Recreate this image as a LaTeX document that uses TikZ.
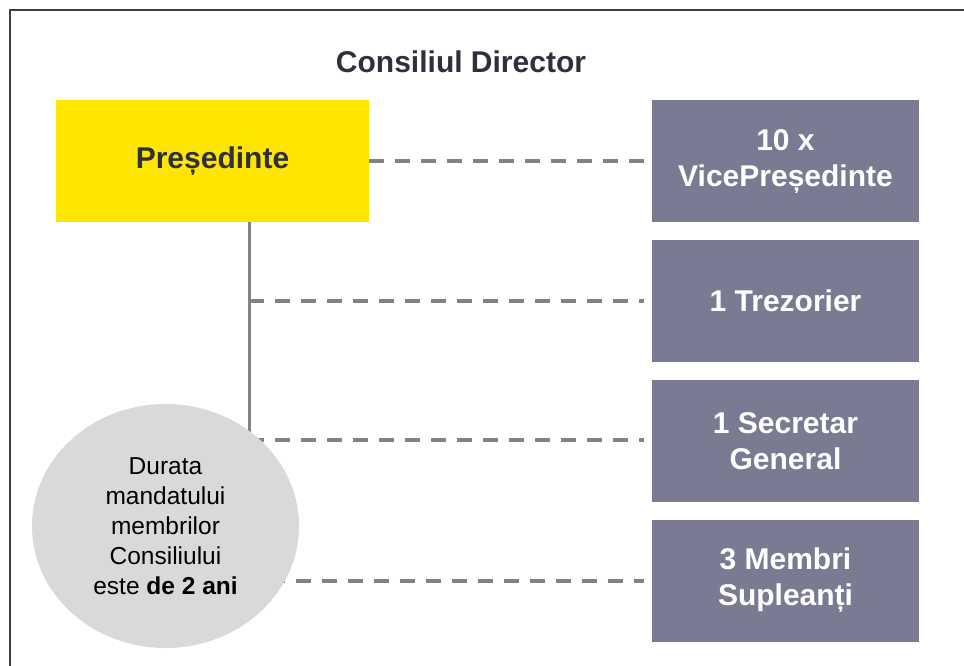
\documentclass[tikz,border=0pt]{standalone}
\usepackage{fontspec}
\setmainfont{Liberation Sans}
\usetikzlibrary{shapes.geometric,backgrounds}
\definecolor{galben}{HTML}{FFE600}
\definecolor{mov}{HTML}{7A7A92}
\definecolor{gricerc}{HTML}{D9D9D9}
\definecolor{grilinie}{HTML}{828282}
\definecolor{textinchis}{HTML}{30303C}
\definecolor{rama}{HTML}{3C3C4A}
\begin{document}
\begin{tikzpicture}[x=1pt, y=-1pt,
    cutie/.style={minimum width=267pt, minimum height=122pt, fill=mov, text=white,
      font=\fontsize{30}{36}\selectfont\bfseries, align=center, inner sep=0pt},
    legatura/.style={draw=grilinie, line width=4pt, dash pattern=on 15pt off 11pt}]
  \useasboundingbox (0,0) rectangle (964,666);
  % rama
  \draw[rama, line width=2pt] (10,666) -- (10,10) -- (964,10);
  \node[font=\fontsize{30}{36}\selectfont\bfseries, text=textinchis] (titlu) at (461,62) {Consiliul Director};
  \node[fill=galben, minimum width=313pt, minimum height=122pt, inner sep=0pt,
    font=\fontsize{30}{36}\selectfont\bfseries, text=textinchis] (pres) at (212.5,161) {Președinte};
  \foreach \n/\y/\t in {vice/161/{10 x\\VicePreședinte}, trez/301/{1 Trezorier},
      secr/441/{1 Secretar\\General}, supl/580.5/{3 Membri\\Supleanți}} {
    \node[cutie] (\n) at (785.5,\y) {\t};
  }
  \node[ellipse, fill=gricerc, minimum width=267pt, minimum height=244pt, inner sep=0pt,
    align=center, font=\fontsize{24.5}{30}\selectfont] (durata) at (165.5,526)
    {Durata\\mandatului\\membrilor\\Consiliului\\este \textbf{de 2 ani}};
  \coordinate (ax1) at (249,222);
  \coordinate (ax2) at (249,440);
  % legaturi
  \begin{scope}[on background layer]
    \draw[grilinie, line width=3pt] (ax1) -- (ax2);
    \draw[legatura] (pres.east) -- ([xshift=-8pt]vice.west);
    \draw[legatura] (ax1 |- trez.west) -- ([xshift=-8pt]trez.west);
    \draw[legatura] (ax2) -- ([xshift=-8pt]ax2 -| secr.west);
    \draw[legatura] (durata |- supl.west) -- ([xshift=-8pt]supl.west);
  \end{scope}
\end{tikzpicture}
\end{document}
